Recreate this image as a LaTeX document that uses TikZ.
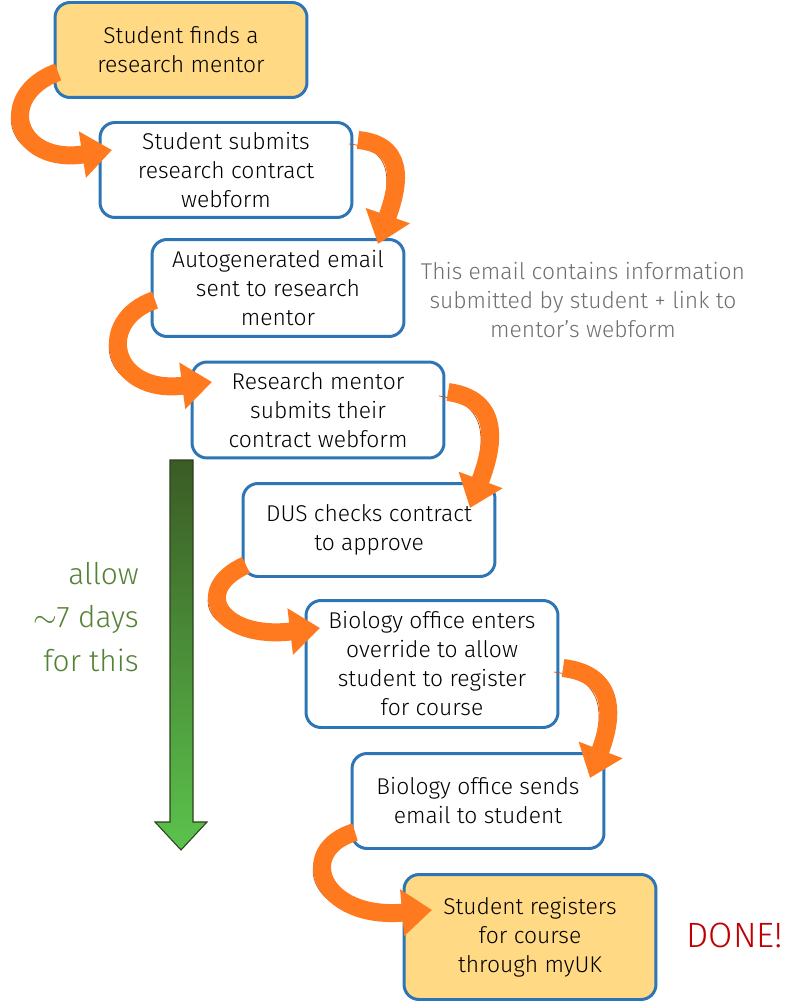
\documentclass[tikz,border=0pt]{standalone}
\usepackage{fontspec}
\setmainfont{Fira Sans Light}
\usetikzlibrary{arrows.meta,calc}
\definecolor{boxblue}{HTML}{2E75B6}
\definecolor{startfill}{HTML}{FFD983}
\definecolor{arrowor}{HTML}{FF7A1F}
\definecolor{arroword}{HTML}{C4510F}
\definecolor{notegray}{HTML}{6F6F6F}
\definecolor{allowgreen}{HTML}{548235}
\definecolor{donered}{HTML}{C00000}
\tikzset{
  stepbox/.style={draw=boxblue, line width=1.7pt, rounded corners=3mm, fill=white,
    minimum width=5.04cm, align=center, font=\fontsize{13}{16.5}\selectfont},
  endbox/.style={stepbox, fill=startfill},
  flow/.style={-{Triangle[length=6mm,width=9mm]}, line width=3.6mm, draw=arrowor,
    preaction={draw=arroword, -, shorten >=5mm, transform canvas={xshift=-1.8mm, yshift=-0.8mm}}}
}

\begin{document}
\begin{tikzpicture}[x=0.02cm, y=-0.02cm]
  \useasboundingbox (0,0) rectangle (810,1003);
  % time arrow
  \shade[top color=allowgreen!70!black, bottom color=allowgreen!60!green!80!white, draw=allowgreen!50!black, line width=0.6pt]
    (170,460) -- (193,460) -- (193,822) -- (207,822) -- (181,850) -- (155,822) -- (170,822) -- cycle;
  \node[anchor=east, align=right, text=allowgreen, font=\fontsize{17}{25}\selectfont] (allow) at (145,617) {allow\\$\sim$7 days\\for this};

  % connectors, heads drawn after the steps
  \coordinate (c1) at (58,72);
  \coordinate (c2) at (358,140);
  \coordinate (c3) at (155,300);
  \coordinate (c4) at (448,392);
  \coordinate (c5) at (246,565);
  \coordinate (c6) at (563,668);
  \coordinate (c7) at (355,832);
  \coordinate (h1) at (112,150);
  \coordinate (h2) at (378,244);
  \coordinate (h3) at (212,382);
  \coordinate (h4) at (470,508);
  \coordinate (h5) at (320,628);
  \coordinate (h6) at (590,778);
  \coordinate (h7) at (432,910);

  % steps
  \node[endbox, minimum height=1.9cm] (find) at (181,50) {Student finds a\\research mentor};
  \node[stepbox, minimum height=1.9cm] (submit) at (226,170) {Student submits\\research contract\\webform};
  \node[stepbox, minimum height=1.94cm] (email) at (278,288) {Autogenerated email\\sent to research\\mentor};
  \node[stepbox, minimum height=1.92cm] (mentor) at (318,410) {Research mentor\\submits their\\contract webform};
  \node[stepbox, minimum height=1.86cm] (dus) at (369,530) {DUS checks contract\\to approve};
  \node[stepbox, minimum height=2.54cm] (override) at (432,664) {Biology office enters\\override to allow\\student to register\\for course};
  \node[stepbox, minimum height=1.9cm] (sends) at (478,801) {Biology office sends\\email to student};
  \node[endbox, minimum height=2.5cm] (register) at (530,937) {Student registers\\for course\\through myUK};

  \draw[flow] (c1) .. controls (-5,95) and (15,165) .. (h1);
  \draw[flow] (c2) .. controls (412,145) and (395,195) .. (h2);
  \draw[flow] (c3) .. controls (95,320) and (110,395) .. (h3);
  \draw[flow] (c4) .. controls (507,400) and (490,455) .. (h4);
  \draw[flow] (c5) .. controls (190,590) and (220,640) .. (h5);
  \draw[flow] (c6) .. controls (622,675) and (610,725) .. (h6);
  \draw[flow] (c7) .. controls (295,850) and (320,920) .. (h7);

  \node[text=notegray, align=center, font=\fontsize{13}{16.5}\selectfont] (note) at (583,300) {This email contains information\\submitted by student + link to\\mentor’s webform};
  \node[text=donered, font=\fontsize{20}{24}\selectfont] (done) at (735,935) {DONE!};
\end{tikzpicture}
\end{document}
